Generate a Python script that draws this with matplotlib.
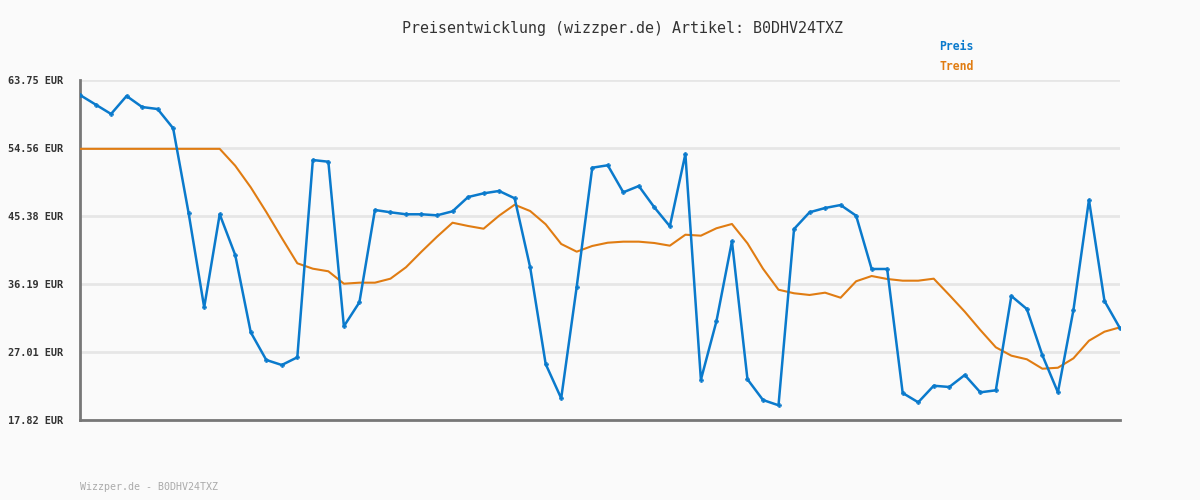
import matplotlib
matplotlib.use('Agg')
import matplotlib.pyplot as plt

# price history
preis = [61.72, 60.44, 59.16, 61.59, 60.10, 59.83, 57.23, 45.74, 33.04, 45.61,
         40.11, 29.67, 25.93, 25.25, 26.29, 52.94, 52.71, 30.48, 33.72, 46.19,
         45.88, 45.61, 45.61, 45.47, 46.01, 47.94, 48.44, 48.76, 47.77, 38.45,
         25.38, 20.75, 35.83, 51.90, 52.23, 48.58, 49.43, 46.55, 43.99, 53.75,
         23.26, 31.15, 41.96, 23.32, 20.52, 19.81, 43.62, 45.88, 46.46, 46.86,
         45.42, 38.22, 38.22, 21.47, 20.21, 22.45, 22.28, 23.90, 21.56, 21.83,
         34.57, 32.81, 26.56, 21.56, 32.68, 47.54, 33.90, 30.21]

trend = [54.45, 54.45, 54.45, 54.45, 54.45, 54.45, 54.45, 54.45, 54.45, 54.45,
         52.17, 49.25, 45.92, 42.41, 38.99, 38.26, 37.91, 36.23, 36.37, 36.37,
         36.91, 38.45, 40.56, 42.58, 44.47, 44.03, 43.66, 45.42, 46.90, 46.05,
         44.26, 41.60, 40.56, 41.33, 41.77, 41.91, 41.91, 41.73, 41.37, 42.85,
         42.72, 43.72, 44.30, 41.69, 38.26, 35.42, 34.94, 34.71, 35.02, 34.34,
         36.56, 37.27, 36.87, 36.64, 36.64, 36.91, 34.71, 32.45, 29.98, 27.64,
         26.51, 26.02, 24.75, 24.88, 26.15, 28.53, 29.75, 30.34]

yticks = [17.82, 27.01, 36.19, 45.38, 54.56, 63.75]
ylabels = ['17.82 EUR', '27.01 EUR', '36.19 EUR', '45.38 EUR', '54.56 EUR', '63.75 EUR']

artikel = 'B0DHV24TXZ'
blau = '#0a7acc'
orange = '#e07c12'
bg = '#fafafa'

fig = plt.figure(figsize=(12, 5), dpi=100, facecolor=bg)
ax = fig.add_axes([80/1200., 80/500., 1040/1200., 340/500.])
ax.set_facecolor(bg)

x = list(range(len(preis)))
ax.plot(x, trend, color=orange, lw=1.5, zorder=3)
ax.plot(x, preis, color=blau, lw=1.8, marker='P', ms=3.2, mew=0.3, zorder=4)

ax.set_xlim(0, len(preis) - 1)
ax.set_ylim(yticks[0], yticks[-1])
ax.set_xticks([])
ax.set_yticks(yticks)
ax.set_yticklabels(ylabels, family='DejaVu Sans Mono', fontsize=7.4,
                   fontweight='bold', color='#333333')
ax.tick_params(axis='y', length=0, pad=12)
ax.grid(axis='y', color='#e6e6e6', lw=2)
ax.set_axisbelow(True)

for s in ['top', 'right']:
    ax.spines[s].set_visible(False)
for s in ['left', 'bottom']:
    ax.spines[s].set_color('#777777')
    ax.spines[s].set_linewidth(2)

fig.text(623/1200., 1 - 28/500., 'Preisentwicklung (wizzper.de) Artikel: ' + artikel,
         ha='center', va='center', family='DejaVu Sans Mono', fontsize=10.8, color='#333333')
fig.text(939/1200., 1 - 46/500., 'Preis', ha='left', va='center', family='DejaVu Sans Mono',
         fontsize=8.3, fontweight='bold', color=blau)
fig.text(939/1200., 1 - 67/500., 'Trend', ha='left', va='center', family='DejaVu Sans Mono',
         fontsize=8.3, fontweight='bold', color=orange)
fig.text(80/1200., 1 - 487/500., 'Wizzper.de - ' + artikel, ha='left', va='center',
         family='DejaVu Sans Mono', fontsize=7.2, color='#aaaaaa')

fig.savefig('out.png', dpi=100, facecolor=bg)
